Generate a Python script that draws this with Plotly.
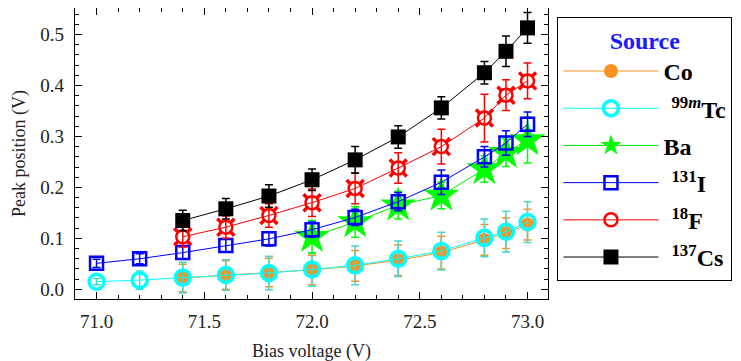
import plotly.graph_objects as go

# ---------------- data ----------------
bias_all = [71.0, 71.2, 71.4, 71.6, 71.8, 72.0, 72.2, 72.4, 72.6, 72.8, 72.9, 73.0]
bias_714 = [71.4, 71.6, 71.8, 72.0, 72.2, 72.4, 72.6, 72.8, 72.9, 73.0]
bias_720 = [72.0, 72.2, 72.4, 72.6, 72.8, 72.9, 73.0]

co_peak = [0.022, 0.028, 0.033, 0.038, 0.046, 0.057, 0.072, 0.097, 0.110, 0.127]
co_err = [0.027, 0.028, 0.028, 0.029, 0.030, 0.030, 0.032, 0.030, 0.030, 0.030]

tc_peak = [0.015, 0.018, 0.023, 0.028, 0.032, 0.039, 0.047, 0.060, 0.075, 0.101, 0.113, 0.132]
tc_err = [0.006, 0.018, 0.030, 0.030, 0.033, 0.033, 0.038, 0.035, 0.037, 0.037, 0.040, 0.040]

ba_peak = [0.103, 0.132, 0.165, 0.184, 0.236, 0.268, 0.293]
ba_err = [0.032, 0.030, 0.027, 0.026, 0.026, 0.027, 0.045]

i_peak = [0.051, 0.060, 0.072, 0.086, 0.099, 0.117, 0.141, 0.172, 0.210, 0.260, 0.287, 0.324]
i_err = [0.008, 0.010, 0.012, 0.013, 0.014, 0.015, 0.016, 0.018, 0.024, 0.020, 0.024, 0.024]

f_peak = [0.103, 0.122, 0.145, 0.170, 0.198, 0.238, 0.280, 0.336, 0.381, 0.409]
f_err = [0.020, 0.022, 0.023, 0.027, 0.030, 0.030, 0.034, 0.047, 0.030, 0.035]

cs_peak = [0.135, 0.158, 0.183, 0.215, 0.254, 0.299, 0.356, 0.425, 0.467, 0.513]
cs_err = [0.020, 0.020, 0.022, 0.021, 0.026, 0.022, 0.022, 0.022, 0.030, 0.030]

x_ticks = [71.0, 71.5, 72.0, 72.5, 73.0]
y_ticks = [0.0, 0.1, 0.2, 0.3, 0.4, 0.5]
x_grid = [71.5, 72.0, 72.5]
y_grid = [0.1, 0.2, 0.3, 0.4, 0.5]

labels = ["Co", "\u2005\u200a<sup>99<i>m</i></sup>Tc", "Ba",
          "\u2005\u200a<sup>131</sup>I", "\u2005\u200a<sup>18</sup>F",
          "\u2005\u200a<sup>137</sup>Cs"]

SERIF = "Liberation Serif"

fig = go.Figure()


def err(vals, color):
    return dict(type="data", array=vals, visible=True, color=color,
                thickness=1.5, width=4)


# Co
fig.add_trace(go.Scatter(
    x=bias_714, y=co_peak, name=labels[0], legendgroup="co", mode="lines+markers",
    line=dict(color="#F7931E", width=1),
    marker=dict(symbol="circle", size=14, color="#F7931E"),
    error_y=err(co_err, "#F7931E")))
# 99mTc
fig.add_trace(go.Scatter(
    x=bias_all, y=tc_peak, name=labels[1], legendgroup="tc", mode="lines+markers",
    line=dict(color="#00FFFF", width=1),
    marker=dict(symbol="circle-open", size=15, color="#00FFFF", line=dict(width=3.5)),
    error_y=err(tc_err, "#48D8C8")))
# Ba
fig.add_trace(go.Scatter(
    x=bias_720, y=ba_peak, name=labels[2], legendgroup="ba", mode="lines+markers",
    line=dict(color="#00EE00", width=1),
    marker=dict(symbol="star", size=27, color="#00FF00", line=dict(width=0)),
    error_y=err(ba_err, "#00FF00")))
# 131I
fig.add_trace(go.Scatter(
    x=bias_all, y=i_peak, name=labels[3], legendgroup="i", mode="lines+markers",
    line=dict(color="#0000FF", width=1),
    marker=dict(symbol="square-open", size=13, color="#0000FF", line=dict(width=2.5)),
    error_y=err(i_err, "#0000FF")))
# 18F  (spokes + white core + ring)
fig.add_trace(go.Scatter(
    x=bias_714, y=f_peak, legendgroup="f", showlegend=False, mode="markers",
    marker=dict(symbol="x-thin-open", size=17, color="#FF0000", line=dict(width=3.5, color="#FF0000")),
    hoverinfo="skip"))
fig.add_trace(go.Scatter(
    x=bias_714, y=f_peak, legendgroup="f", showlegend=False, mode="markers",
    marker=dict(symbol="circle", size=11, color="white", line=dict(width=0)),
    hoverinfo="skip"))
fig.add_trace(go.Scatter(
    x=bias_714, y=f_peak, name=labels[4], legendgroup="f", mode="lines+markers",
    line=dict(color="#FF0000", width=1),
    marker=dict(symbol="circle-open", size=13, color="#FF0000", line=dict(width=2.5)),
    error_y=err(f_err, "#FF0000")))
# 137Cs
fig.add_trace(go.Scatter(
    x=bias_714, y=cs_peak, name=labels[5], legendgroup="cs", mode="lines+markers",
    line=dict(color="#000000", width=1),
    marker=dict(symbol="square", size=15, color="#000000"),
    error_y=err(cs_err, "#000000")))

x_range = [70.9, 73.095]
y_range = [-0.019, 0.552]

axis_common = dict(
    showline=True, linecolor="black", linewidth=1.3, mirror="ticks",
    ticks="inside", ticklen=7, tickwidth=1, tickcolor="black",
    showgrid=False, zeroline=False, automargin=False,
    tickfont=dict(family=SERIF, size=19, color="#222"),
)

fig.update_layout(
    width=741, height=361,
    margin=dict(l=67, r=201, t=0, b=70, autoexpand=False),
    paper_bgcolor="white", plot_bgcolor="white",
    xaxis=dict(**axis_common, range=x_range, tickvals=x_ticks, tickformat=".1f",
               minor=dict(ticks="inside", ticklen=4, dtick=0.1, tick0=71.0, tickcolor="black"),
               ticklabelstandoff=5,
               title=dict(text="Bias voltage (V)", font=dict(family=SERIF, size=18, color="#222"),
                          standoff=13)),
    yaxis=dict(**axis_common, range=y_range, tickvals=y_ticks, tickformat=".1f",
               minor=dict(ticks="inside", ticklen=4, dtick=0.02, tick0=0, tickcolor="black"),
               ticklabelstandoff=6,
               title=dict(text="Peak position (V)", font=dict(family=SERIF, size=18, color="#222"),
                          standoff=9)),
    xaxis2=dict(overlaying="x", anchor="y", range=x_range, tickvals=x_grid,
                showgrid=True, gridcolor="#C8C8F5", griddash="8px,5px", gridwidth=1,
                showticklabels=False, ticks="", showline=False, zeroline=False),
    yaxis2=dict(overlaying="y", anchor="x", range=y_range, tickvals=y_grid,
                showgrid=True, gridcolor="#C8C8F5", griddash="8px,5px", gridwidth=1,
                showticklabels=False, ticks="", showline=False, zeroline=False),
    legend=dict(
        x=1.02, xanchor="left", y=0.97, yanchor="top",
        bordercolor="black", borderwidth=1, bgcolor="white",
        font=dict(family=SERIF, size=24, color="black", weight="bold"),
        title=dict(text="<b>Source</b>", side="top center",
                   font=dict(family=SERIF, size=24, color="#1a1aff")),
        traceorder="grouped", tracegroupgap=3, itemwidth=95,
        itemsizing="trace",
    ),
    showlegend=True,
)

fig.write_html("out.html")
